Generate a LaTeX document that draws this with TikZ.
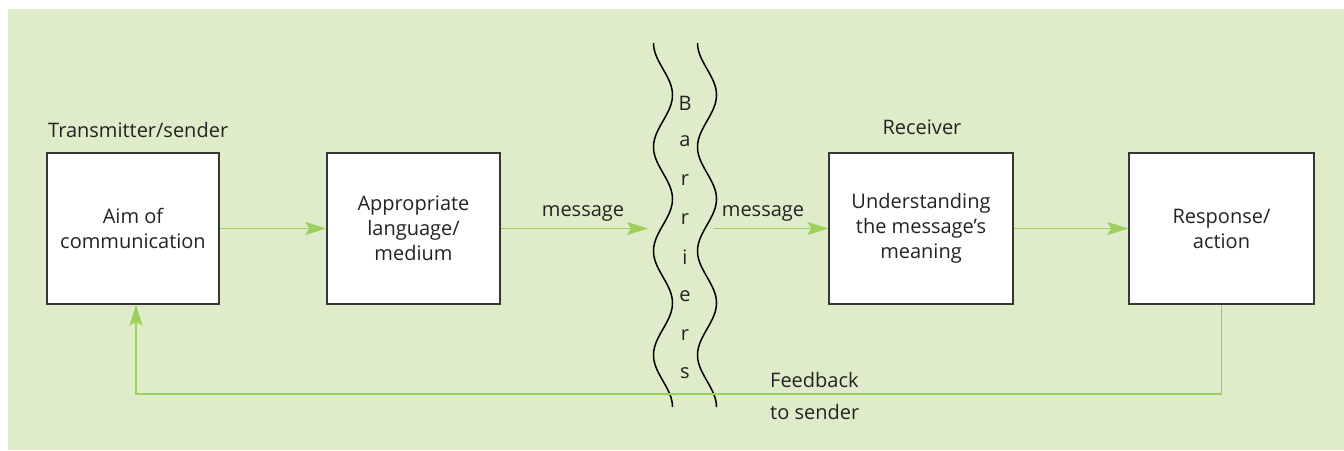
\documentclass[tikz,border=0pt]{standalone}
\usepackage{fontspec}
\setmainfont{Open Sans}
\usetikzlibrary{arrows.meta}
\definecolor{bg}{RGB}{223,236,201}
\definecolor{gr}{RGB}{158,207,92}
\definecolor{bx}{RGB}{55,55,55}
\definecolor{tx}{RGB}{35,35,35}
\begin{document}
\begin{tikzpicture}[x=1pt,y=-1pt,
  font=\fontsize{20}{25}\selectfont,
  box/.style={draw=bx, line width=1.4pt, fill=white, minimum height=151pt,
    align=center, inner sep=0pt, text=tx},
  conn/.style={draw=gr, line width=1.9pt, -{Stealth[length=21pt,width=13pt,inset=4pt,fill=gr]}},
  lbl/.style={text=tx, inner sep=0pt},
  wave/.style={draw=black, line width=1.5pt}]
\useasboundingbox (0,0) rectangle (1344,450);
\fill[bg] (8,9) rectangle (1344,450);

% boxes
\node[box, minimum width=172pt] (b1) at (133,228.5) {Aim of\\communication};
\node[box, minimum width=173pt] (b2) at (413.5,228.5) {Appropriate\\language/\\medium};
\node[box, minimum width=184pt] (b3) at (921,228.5) {Understanding\\the message’s\\meaning};
\node[box, minimum width=185pt] (b4) at (1221.5,228.5) {Response/\\action};

% barrier wavy lines
\draw[wave] plot[domain=0:7, samples=120, smooth] ({663-9.5*cos(180*\x)},{43+52*\x});
\draw[wave] plot[domain=0:7, samples=120, smooth] ({707-9.5*cos(180*\x)},{43+52*\x});
\foreach \c [count=\i from 0] in {B,a,r,r,i,e,r,s}
  \node[lbl] (bar\i) at (685,{103+38.6*\i}) {\c};

\coordinate (barL) at (648,228.5);
\coordinate (barR) at (714,228.5);
\coordinate (fb) at (136,394);

% connectors
\draw[conn] (b1) -- (b2);
\draw[conn] (b2) -- (barL);
\draw[conn] (barR) -- (b3);
\draw[conn] (b3) -- (b4);
\draw[conn] (b4.south) |- (fb) -- (fb |- b1.south);

% labels
\node[lbl, anchor=base west] (ts) at (48,137) {Transmitter/sender};
\node[lbl, anchor=base] (rc) at (922,134) {Receiver};
\node[lbl, anchor=base] (m1) at (583,216) {message};
\node[lbl, anchor=base] (m2) at (763,216) {message};
\node[lbl, anchor=base west] (fb1) at (770,387) {Feedback};
\node[lbl, anchor=base west] (fb2) at (770,419) {to sender};
\end{tikzpicture}
\end{document}
